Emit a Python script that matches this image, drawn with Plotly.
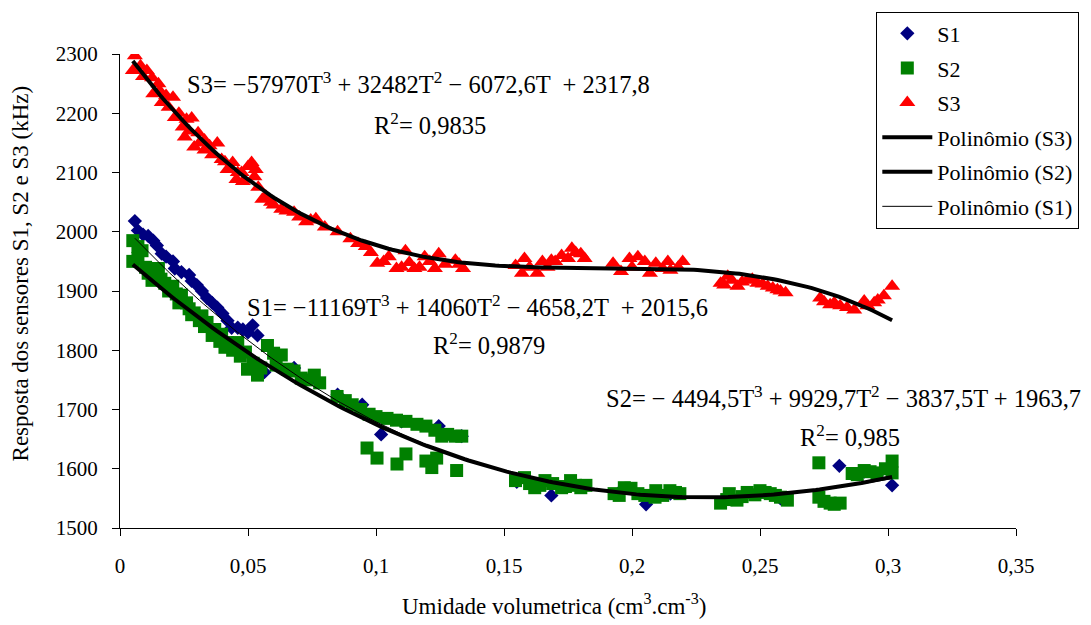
import numpy as np
import plotly.graph_objects as go

# ---------------- data ----------------
s1_x = [0.0058, 0.007, 0.009, 0.011, 0.013, 0.0144, 0.0163, 0.018, 0.0207, 0.0214,
        0.024, 0.027, 0.028, 0.030, 0.032, 0.034, 0.036, 0.038, 0.040, 0.042,
        0.0436, 0.046, 0.048, 0.050, 0.0518, 0.0537, 0.0564, 0.062, 0.068, 0.075,
        0.085, 0.0946, 0.102, 0.110, 0.1245, 0.1335, 0.155, 0.162, 0.1685, 0.176,
        0.195, 0.2055, 0.215, 0.238, 0.25, 0.258, 0.281, 0.2907, 0.2957, 0.3016]
s1_y = [2018, 2002, 1995, 1993, 1985, 1977, 1963, 1958, 1950, 1938,
        1932, 1927, 1917, 1910, 1900, 1888, 1880, 1872, 1862, 1850,
        1838, 1838, 1835, 1830, 1842, 1825, 1763, 1790, 1770, 1752,
        1725, 1708, 1658, 1680, 1672, 1655, 1578, 1570, 1555, 1575,
        1560, 1540, 1558, 1555, 1560, 1550, 1605, 1595, 1590, 1572]

s2_x = [0.005, 0.005, 0.007, 0.007, 0.0086, 0.010, 0.011, 0.0125, 0.014, 0.015,
        0.016, 0.0175, 0.019, 0.0206, 0.022, 0.023, 0.024, 0.026, 0.027, 0.028,
        0.029, 0.031, 0.032, 0.033, 0.034, 0.036, 0.037, 0.039, 0.0397, 0.041,
        0.042, 0.044, 0.046, 0.047, 0.049, 0.0498, 0.052, 0.0537, 0.055, 0.0576,
        0.060, 0.061, 0.063, 0.0654, 0.068, 0.0708, 0.073, 0.0759, 0.078, 0.0848,
        0.088, 0.0907, 0.094, 0.0973, 0.100, 0.1043, 0.108, 0.1117, 0.116, 0.1195,
        0.123, 0.1257, 0.128, 0.131, 0.1335, 0.0965, 0.1004, 0.1082, 0.1117, 0.1195,
        0.1218, 0.1237, 0.1315, 0.1545, 0.158, 0.160, 0.162, 0.164, 0.166, 0.169,
        0.1725, 0.174, 0.176, 0.178, 0.180, 0.182, 0.193, 0.195, 0.197, 0.1996,
        0.2023, 0.205, 0.209, 0.2093, 0.212, 0.2148, 0.217, 0.2187, 0.2346, 0.237,
        0.238, 0.241, 0.243, 0.245, 0.248, 0.250, 0.252, 0.254, 0.256, 0.258,
        0.2607, 0.273, 0.273, 0.275, 0.2774, 0.279, 0.2813, 0.286, 0.288, 0.2907,
        0.293, 0.2957, 0.299, 0.3016, 0.3016]
s2_y = [1985, 1950, 1975, 1955, 1968, 1940, 1930, 1918, 1925, 1938,
        1920, 1913, 1900, 1908, 1895, 1880, 1893, 1880, 1870, 1860,
        1863, 1850, 1858, 1840, 1847, 1825, 1835, 1815, 1827, 1805,
        1813, 1800, 1813, 1790, 1797, 1768, 1778, 1758, 1770, 1808,
        1795, 1775, 1792, 1768, 1765, 1753, 1750, 1758, 1745, 1722,
        1715, 1708, 1700, 1692, 1688, 1685, 1682, 1680, 1675, 1672,
        1665, 1655, 1658, 1655, 1655, 1635, 1618, 1608, 1625, 1613,
        1602, 1618, 1597, 1580, 1585, 1575, 1568, 1572, 1580, 1575,
        1568, 1570, 1580, 1572, 1568, 1572, 1558, 1555, 1568, 1567,
        1558, 1555, 1552, 1563, 1555, 1563, 1560, 1558, 1542, 1548,
        1558, 1547, 1553, 1560, 1556, 1563, 1560, 1558, 1555, 1552,
        1547, 1610, 1552, 1545, 1542, 1540, 1542, 1592, 1590, 1597,
        1595, 1593, 1600, 1613, 1593]

s3_x = [0.0058, 0.005, 0.008, 0.009, 0.0105, 0.0125, 0.013, 0.015, 0.0155, 0.0163,
        0.018, 0.019, 0.0207, 0.0214, 0.023, 0.0245, 0.026, 0.027, 0.028, 0.0253,
        0.0305, 0.029, 0.031, 0.033, 0.033, 0.035, 0.036, 0.038, 0.0397, 0.041,
        0.042, 0.044, 0.0455, 0.046, 0.048, 0.050, 0.0514, 0.0475, 0.0525, 0.053,
        0.054, 0.0556, 0.057, 0.059, 0.060, 0.063, 0.065, 0.068, 0.070, 0.0727,
        0.0745, 0.0765, 0.080, 0.085, 0.090, 0.093, 0.096, 0.098, 0.1005, 0.103,
        0.105, 0.110, 0.1115, 0.108, 0.113, 0.115, 0.117, 0.119, 0.121, 0.1245,
        0.123, 0.127, 0.131, 0.1325, 0.134, 0.1545, 0.158, 0.157, 0.160, 0.163,
        0.165, 0.167, 0.1685, 0.170, 0.1725, 0.175, 0.1765, 0.178, 0.180, 0.1815,
        0.1926, 0.1957, 0.199, 0.200, 0.2023, 0.205, 0.207, 0.2093, 0.212, 0.214,
        0.215, 0.218, 0.2198, 0.2346, 0.236, 0.2374, 0.239, 0.2412, 0.243, 0.245,
        0.247, 0.249, 0.251, 0.253, 0.255, 0.2568, 0.258, 0.26, 0.2735, 0.275,
        0.2774, 0.279, 0.2813, 0.284, 0.2868, 0.2907, 0.292, 0.2946, 0.296, 0.2984,
        0.3016]
s3_y = [2297, 2272, 2280, 2262, 2272, 2260, 2233, 2250, 2238, 2218,
        2230, 2210, 2227, 2193, 2200, 2177, 2190, 2170, 2192, 2160,
        2167, 2143, 2150, 2155, 2138, 2145, 2130, 2150, 2122, 2118,
        2105, 2117, 2088, 2100, 2085, 2110, 2117, 2100, 2093, 2105,
        2075, 2055, 2060, 2050, 2045, 2038, 2035, 2033, 2025, 2017,
        2020, 2022, 2008, 2000, 1988, 1980, 1975, 1965, 1947, 1950,
        1958, 1940, 1968, 1938, 1948, 1938, 1940, 1958, 1950, 1963,
        1938, 1945, 1952, 1945, 1938, 1943, 1955, 1930, 1940, 1930,
        1950, 1940, 1952, 1950, 1960, 1955, 1972, 1965, 1963, 1955,
        1947, 1933, 1955, 1940, 1958, 1950, 1930, 1947, 1938, 1950,
        1935, 1940, 1950, 1913, 1910, 1925, 1918, 1908, 1915, 1918,
        1920, 1913, 1912, 1908, 1905, 1902, 1900, 1897, 1888, 1882,
        1877, 1880, 1875, 1872, 1868, 1883, 1875, 1880, 1885, 1892,
        1908]

# polynomial trendline coefficients shown on the chart (highest power first)
s1_coef = [-11169, 14060, -4658.2, 2015.6]
s2_coef = [-4494.5, 9929.7, -3837.5, 1963.7]
s3_coef = [-57970, 32482, -6072.6, 2317.8]

x_tick_vals = [0, 0.05, 0.1, 0.15, 0.2, 0.25, 0.3, 0.35]
x_tick_text = ["0", "0,05", "0,1", "0,15", "0,2", "0,25", "0,3", "0,35"]
y_tick_vals = [1500, 1600, 1700, 1800, 1900, 2000, 2100, 2200, 2300]
y_tick_text = [str(v) for v in y_tick_vals]

FONT = "Liberation Serif"


def trend(xs, coef):
    t = np.linspace(min(xs), max(xs), 200)
    return t, np.polyval(coef, t)


fig = go.Figure()
fig.add_trace(go.Scatter(x=s1_x, y=s1_y, mode="markers", name="S1", legendgroup="a",
                         marker=dict(symbol="diamond", size=11, color="#000080")))
fig.add_trace(go.Scatter(x=s2_x, y=s2_y, mode="markers", name="S2", legendgroup="b",
                         marker=dict(symbol="square", size=13, color="#008000")))
fig.add_trace(go.Scatter(x=s3_x, y=s3_y, mode="markers", name="S3", legendgroup="c",
                         marker=dict(symbol="triangle-up", size=14, color="#FF0000")))

t3, p3 = trend(s3_x, s3_coef)
t2, p2 = trend(s2_x, s2_coef)
t1, p1 = trend(s1_x, s1_coef)
fig.add_trace(go.Scatter(x=t3, y=p3, mode="lines", name="Polinômio (S3)", legendgroup="d",
                         line=dict(color="black", width=4)))
fig.add_trace(go.Scatter(x=t2, y=p2, mode="lines", name="Polinômio (S2)", legendgroup="e",
                         line=dict(color="black", width=4)))
fig.add_trace(go.Scatter(x=t1, y=p1, mode="lines", name="Polinômio (S1)", legendgroup="f",
                         line=dict(color="black", width=1)))

# plot area in page pixels
PL, PR, PT, PB = 120, 1018, 48, 528


def px(xp):
    return (xp - PL) / (PR - PL)


def py(yp):
    return (PB - yp) / (PB - PT)


ann_font = dict(family=FONT, size=24.5, color="black")
annotations = [
    dict(x=px(185), y=py(77),
         text="S3= −57970T<sup>3</sup> + 32482T<sup>2</sup> − 6072,6T \u00a0+ 2317,8"),
    dict(x=px(373), y=py(119), text="R<sup>2</sup>= 0,9835"),
    dict(x=px(245), y=py(303),
         text="S1= −11169T<sup>3</sup> + 14060T<sup>2</sup> − 4658,2T \u00a0+ 2015,6"),
    dict(x=px(432), y=py(342), text="R<sup>2</sup>= 0,9879"),
    dict(x=px(605), y=py(395),
         text="S2= − 4494,5T<sup>3</sup> + 9929,7T<sup>2</sup> − 3837,5T + 1963,7"),
    dict(x=px(800), y=py(435), text="R<sup>2</sup>= 0,985"),
]
for a in annotations:
    a.update(xref="paper", yref="paper", xanchor="left", yanchor="middle",
             showarrow=False, font=ann_font)

annotations.append(dict(x=px(20), y=py(270), xref="paper", yref="paper",
                        text="Resposta dos sensores S1, S2 e S3 (kHz)", textangle=-90,
                        showarrow=False, xanchor="center", yanchor="middle",
                        font=dict(family=FONT, size=23, color="black")))
annotations.append(dict(x=px(555), y=py(605), xref="paper", yref="paper",
                        text="Umidade volumetrica (cm<sup>3</sup>.cm<sup>-3</sup>)",
                        showarrow=False, xanchor="center", yanchor="middle",
                        font=dict(family=FONT, size=23, color="black")))

fig.update_layout(
    width=1091, height=625,
    margin=dict(l=PL, r=1091 - PR, t=PT, b=625 - PB),
    paper_bgcolor="white", plot_bgcolor="white",
    font=dict(family=FONT, size=20, color="black"),
    showlegend=True,
    legend=dict(x=px(878), y=py(5), xanchor="left", yanchor="top",
                bgcolor="white", bordercolor="black", borderwidth=1,
                font=dict(family=FONT, size=22, color="black"),
                traceorder="grouped", tracegroupgap=3, itemwidth=50),
    annotations=annotations,
    xaxis=dict(range=[0, 0.35], tickvals=x_tick_vals, ticktext=x_tick_text,
               showgrid=False, zeroline=False, showline=True, linecolor="black", linewidth=1,
               ticks="outside", ticklen=7, tickcolor="black", ticklabelstandoff=12,
               tickfont=dict(family=FONT, size=21, color="black")),
    yaxis=dict(range=[1500, 2300], tickvals=y_tick_vals, ticktext=y_tick_text,
               showgrid=False, zeroline=False, showline=True, linecolor="black", linewidth=1,
               ticks="outside", ticklen=7, tickcolor="black", ticklabelstandoff=10,
               tickfont=dict(family=FONT, size=21, color="black")),
)

fig.write_html("out.html", config={"displayModeBar": False},
               post_script="document.body.style.margin='0';document.body.style.overflow='hidden';")
